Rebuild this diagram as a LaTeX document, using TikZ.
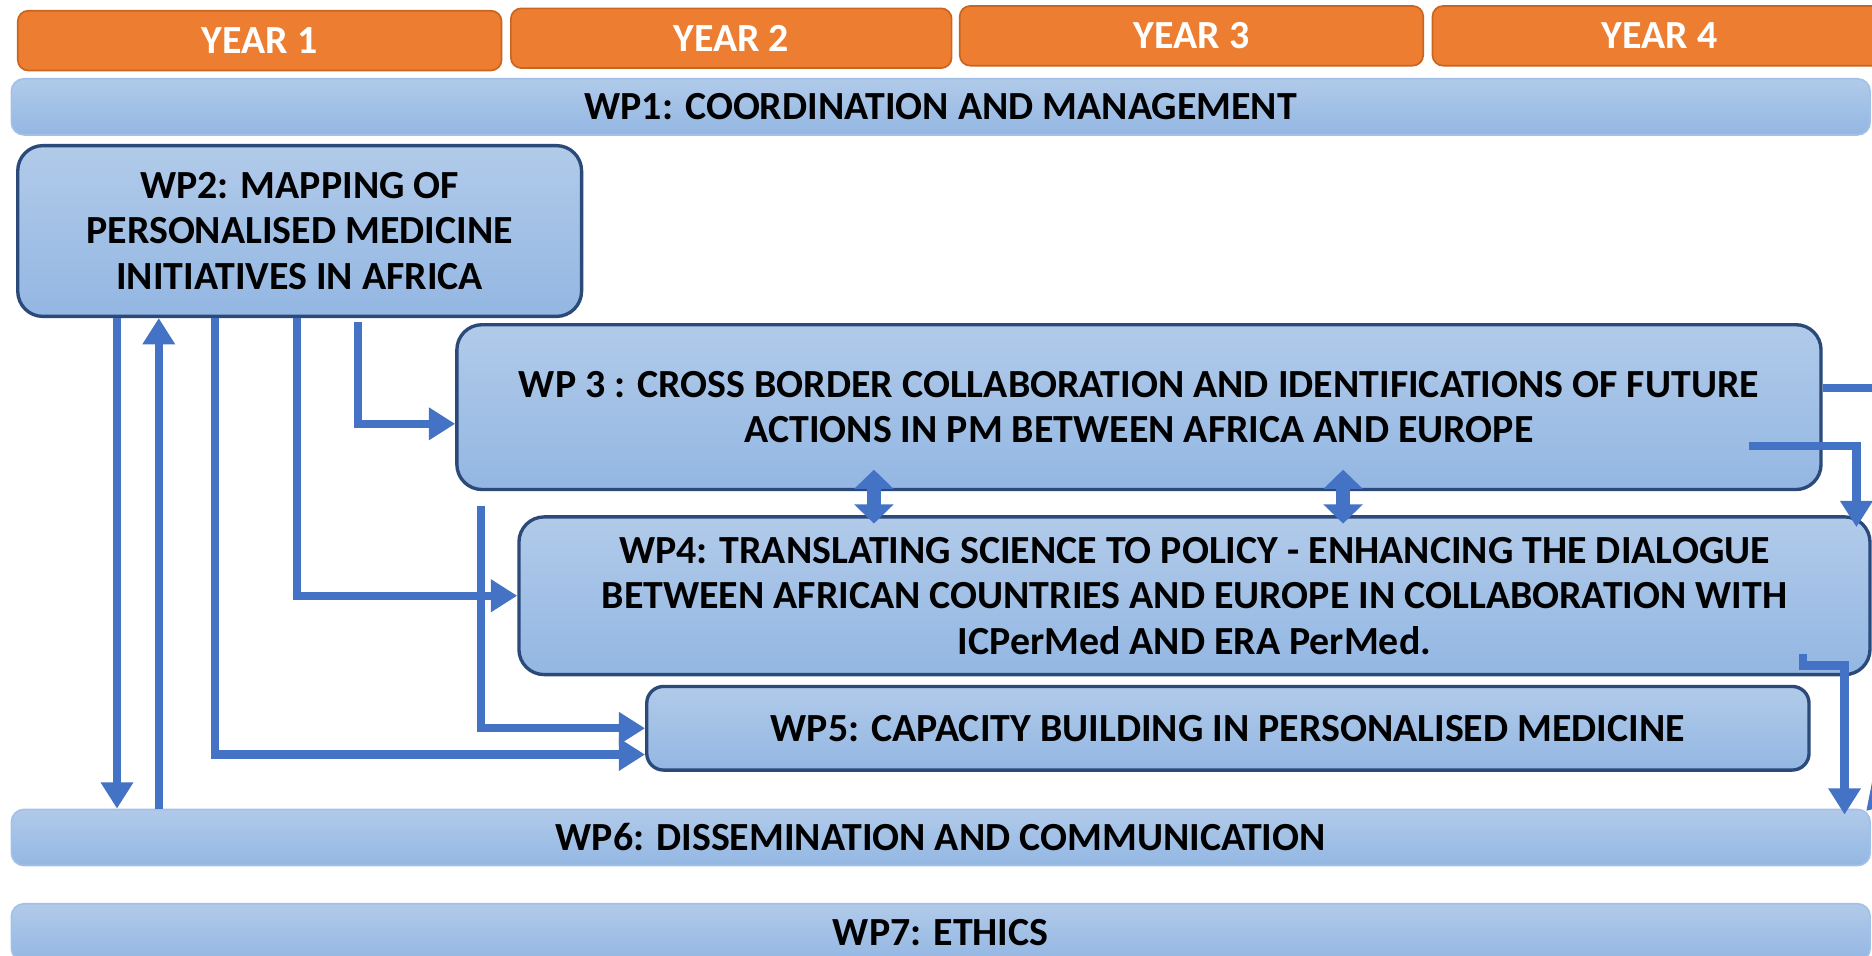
\documentclass[tikz,border=0pt]{standalone}
\usepackage{fontspec}
\setmainfont{Carlito}
\usetikzlibrary{arrows.meta,calc}
\definecolor{yearOrange}{HTML}{ED7D31}
\definecolor{yearEdge}{HTML}{C9651E}
\definecolor{wpTop}{HTML}{B1CAE9}
\definecolor{wpBottom}{HTML}{93B7E3}
\definecolor{wpEdge}{HTML}{2B4A7A}
\definecolor{barEdge}{HTML}{A3C1E8}
\definecolor{linkBlue}{HTML}{4472C4}

\begin{document}
\begin{tikzpicture}[x=0.01cm, y=-0.01cm,
    font=\fontsize{9.5}{10.8}\selectfont\bfseries,
    year/.style={draw=yearEdge, fill=yearOrange, text=white, rounded corners=2.5pt,
        minimum height=0.5cm, inner sep=0pt},
    bar/.style={draw=barEdge, top color=wpTop, bottom color=wpBottom, rounded corners=3pt,
        minimum width=15.56cm, minimum height=0.47cm, inner sep=0pt},
    wpbox/.style={draw=wpEdge, line width=0.8pt, top color=wpTop, bottom color=wpBottom,
        rounded corners=6pt, align=center, inner sep=0pt},
    link/.style={linkBlue, line width=0.068cm, -{Triangle[length=0.22cm,width=0.26cm]}},
    dbl/.style={linkBlue, line width=0.12cm,
        {Triangle[length=0.16cm,width=0.32cm]}-{Triangle[length=0.16cm,width=0.32cm]}}]
    \useasboundingbox (0,0) rectangle (1568,800);
    \clip (0,0) rectangle (1568,800);
    % years
    \node[year, minimum width=4.05cm] (year1) at (217.5,34) {YEAR 1};
    \node[year, minimum width=3.69cm] (year2) at (612.5,32) {YEAR 2};
    \node[year, minimum width=3.88cm] (year3) at (998,30) {YEAR 3};
    \node[year, minimum width=3.8cm] (year4) at (1390,30) {YEAR 4};
    % work packages
    \node[bar] (wp1) at (788,89.5) {WP1: COORDINATION AND MANAGEMENT};
    \node[wpbox, minimum width=4.72cm, minimum height=1.43cm] (wp2) at (251,193.5)
        {WP2: MAPPING OF\\PERSONALISED MEDICINE\\INITIATIVES IN AFRICA};
    \node[wpbox, minimum width=11.42cm, minimum height=1.38cm] (wp3) at (954,341)
        {WP 3 : CROSS BORDER COLLABORATION AND IDENTIFICATIONS OF FUTURE\\
         ACTIONS IN PM BETWEEN AFRICA AND EUROPE};
    \node[wpbox, minimum width=11.31cm, minimum height=1.32cm] (wp4) at (1000.5,499)
        {WP4: TRANSLATING SCIENCE TO POLICY - ENHANCING THE DIALOGUE\\
         BETWEEN AFRICAN COUNTRIES AND EUROPE IN COLLABORATION WITH\\
         ICPerMed AND ERA PerMed.};
    \node[wpbox, rounded corners=4pt, minimum width=9.73cm, minimum height=0.7cm] (wp5)
        at (1028.5,610) {WP5: CAPACITY BUILDING IN PERSONALISED MEDICINE};
    \node[bar] (wp6) at (788,701.5) {WP6: DISSEMINATION AND COMMUNICATION};
    \node[bar, minimum height=0.48cm] (wp7) at (788,781) {WP7: ETHICS};
    % columns of the connectors
    \foreach \n/\x in {a/98, b/133, c/180, e/249, f/300, d/403, g/732, k/1125,
                       i/1510, j/1545, h/1555}
        \coordinate (x\n) at (\x,0);
    % connectors
    \draw[link] (xa |- wp2.south) -- (xa |- wp6.north);
    \draw[link] (xb |- wp6.north) -- (xb |- wp2.south);
    \draw[link] (xc |- wp2.south) |- ($(wp5.west)+(0,22)$);
    \draw[link] (xe |- wp2.south) |- (wp4.west);
    \draw[link] ($(xf |- wp2.south)+(0,3)$) |- ($(wp3.west)+(0,14)$);
    \draw[link] ($(xd |- wp3.south)+(0,12)$) |- (wp5.west);
    \draw[dbl] ($(xg |- wp3.south)+(0,-18)$) -- ($(xg |- wp4.north)+(0,7)$);
    \draw[dbl] ($(xk |- wp3.south)+(0,-18)$) -- ($(xk |- wp4.north)+(0,7)$);
    \draw[linkBlue, line width=0.068cm] ($(wp3.east)+(0,-16)$) -- ++(100,0);
    \draw[link] ($(wp3.south east)+(-62,-38)$) -| ($(xh |- wp4.north)+(0,10)$);
    \draw[link] ($(xi |- wp4.south)+(0,-19)$) -- ++(0,10) -| ($(xj |- wp6.north)+(0,5)$);
    \draw[link] (1610,630) -- ($(wp6.north east)+(-4,2)$);
\end{tikzpicture}
\end{document}
